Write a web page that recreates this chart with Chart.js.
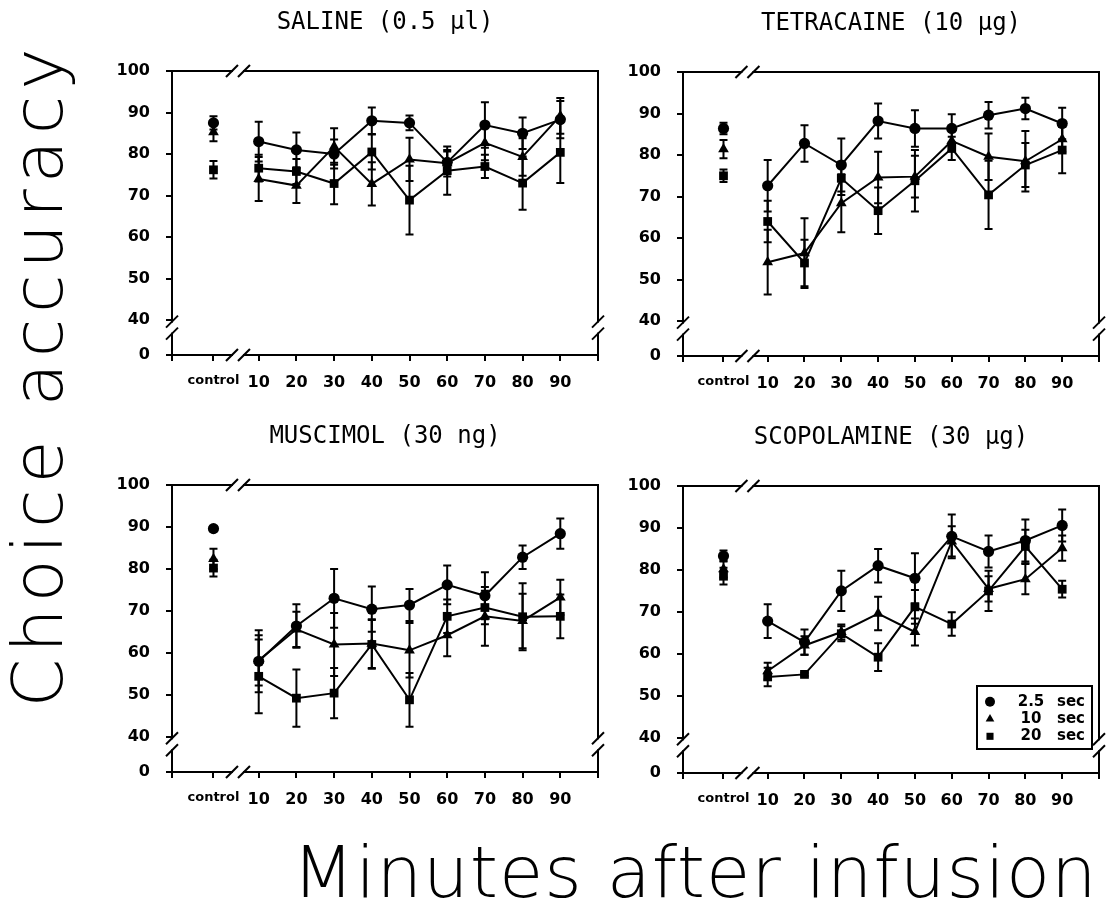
<!DOCTYPE html>
<html>
<head>
<meta charset="utf-8">
<title>Choice accuracy after infusion</title>
<script src="https://cdn.jsdelivr.net/npm/chart.js@4.4.1/dist/chart.umd.min.js"></script>
<style>
  html, body { margin: 0; padding: 0; background: #fff; overflow: hidden; }
  body { position: relative; width: 1114px; height: 916px; }
  canvas { position: absolute; }
  #saline { left: 100px; top: 0px; }
  #tetracaine { left: 611px; top: 1px; }
  #muscimol { left: 100px; top: 414px; }
  #scopolamine { left: 611px; top: 415px; }
  .big { position: absolute; font-family: "DejaVu Sans", sans-serif; font-weight: 200;
         color: #000; white-space: nowrap; line-height: 1; }
  #ylab { left: 38px; top: 375px; font-size: 70px; letter-spacing: 6px;
          transform: translate(-50%, -50%) rotate(-90deg); }
  #xlab { left: 695px; top: 872px; font-size: 72px; letter-spacing: 1px; transform: translate(-50%, -50%); }
</style>
</head>
<body>
<canvas id="saline" width="510" height="410"></canvas>
<canvas id="tetracaine" width="500" height="410"></canvas>
<canvas id="muscimol" width="510" height="413"></canvas>
<canvas id="scopolamine" width="500" height="413"></canvas>
<div class="big" id="ylab">Choice accuracy</div>
<div class="big" id="xlab">Minutes after infusion</div>

<script>
// minutes after infusion; every series below starts with the control value
const minutes = [10, 20, 30, 40, 50, 60, 70, 80, 90];
const accuracyTicks = [0, 40, 50, 60, 70, 80, 90, 100];
const delayLabels = ['2.5 sec', '10 sec', '20 sec'];

// SALINE (0.5 ul)
const saline25 = [87.5, 83, 81, 80, 88, 87.5, 78, 87, 85, 88.3];
const saline25Err = [1.6, 4.8, 4.2, 3.5, 3.2, 1.8, 2.6, 5.5, 3.8, 4.5];
const saline10 = [85.3, 74, 72.4, 81.8, 72.8, 78.7, 77.8, 82.7, 79.3, 89.2];
const saline10Err = [2.2, 5.3, 4.2, 4.4, 5.2, 5.2, 3.2, 4.2, 4.5, 4.3];
const saline20 = [76.2, 76.6, 75.8, 72.9, 80.5, 68.9, 76, 77, 73, 80.4];
const saline20Err = [2.1, 3.2, 3, 5, 4.2, 8.3, 5.8, 2.8, 6.4, 7.4];

// TETRACAINE (10 ug)
const tetra25 = [86.4, 72.6, 82.8, 77.6, 88.2, 86.4, 86.4, 89.6, 91.2, 87.6];
const tetra25Err = [1.4, 6.2, 4.4, 6.4, 4.2, 4.4, 3.4, 3.2, 2.6, 3.8];
const tetra10 = [81.4, 54.2, 56.4, 68.4, 74.6, 74.8, 83.4, 79.6, 78.5, 83.8];
const tetra10Err = [2.2, 7.8, 8.4, 7, 6.2, 5, 2.5, 5.6, 7.3, 3];
const tetra20 = [75, 64, 54, 74.4, 66.6, 73.8, 81.6, 70.4, 77.6, 81.2];
const tetra20Err = [1.5, 5, 5.6, 4, 5.6, 7.4, 2.8, 8.2, 5.3, 5.6];

// MUSCIMOL (30 ng)
const musc25 = [89.6, 58, 66.4, 73, 70.4, 71.4, 76.2, 73.6, 82.8, 88.4];
const musc25Err = [0.6, 7.4, 5.2, 7, 5.4, 3.8, 4.6, 5.6, 2.8, 3.6];
const musc10 = [82.4, 58.2, 65.6, 62, 62.2, 60.6, 64.2, 68.7, 67.6, 73.2];
const musc10Err = [2.4, 6, 4.2, 7.5, 5.8, 6.5, 5, 7, 6.5, 4.2];
const musc20 = [80.2, 54.4, 49.2, 50.4, 62, 48.8, 68.7, 70.8, 68.6, 68.7];
const musc20Err = [2, 8.8, 6.8, 6, 5.8, 6.4, 4, 4, 8, 5.2];

// SCOPOLAMINE (30 ug)
const scop25 = [83.3, 67.8, 62.8, 75, 81, 78, 88, 84.4, 87, 90.6];
const scop25Err = [1.3, 4, 3, 4.8, 4, 6, 5.2, 3.8, 5, 3.8];
const scop10 = [80.2, 55.9, 62, 65.2, 69.6, 65.2, 86.8, 75.5, 77.8, 85.2];
const scop10Err = [2, 2, 2.2, 1.8, 4, 3.2, 3.6, 3, 3.6, 3];
const scop20 = [78.5, 54.5, 55.1, 64.8, 59.2, 71.2, 67.1, 75, 85.6, 75.4];
const scop20Err = [2, 2.2, 0.4, 1.8, 3.3, 4, 2.8, 4.8, 4, 2];

// layout of the broken axes
const CONTROL_X = -2;          // control column sits left of the x break
const X_MIN = -13, X_MAX = 100;
const Y_ZERO = 31.6;           // "0" tick drawn just under the y break
const X_BREAK = 4.5, Y_BREAK = 38.2;
const FONT = "'DejaVu Sans', sans-serif";

const markerStyles = ['circle', 'triangle', 'rect'];
const markerRadius = [5.6, 6.2, 6.2];

function points(values) {
  return values.map((v, i) => ({ x: i === 0 ? CONTROL_X : minutes[i - 1], y: v }));
}

function slash(ctx, x, y) {
  ctx.beginPath();
  ctx.moveTo(x - 6, y + 6);
  ctx.lineTo(x + 6, y - 6);
  ctx.stroke();
}

// box around the plot with the // marks on the broken axes
const framePlugin = {
  id: 'frame',
  afterDraw(chart) {
    const { ctx, chartArea: a, scales } = chart;
    const bx = scales.x.getPixelForValue(X_BREAK);
    const by = scales.y.getPixelForValue(Y_BREAK);
    ctx.save();
    ctx.strokeStyle = '#000';
    ctx.lineWidth = 2;
    ctx.strokeRect(a.left, a.top, a.right - a.left, a.bottom - a.top);
    ctx.fillStyle = '#fff';
    [a.top, a.bottom].forEach(yy => {
      ctx.fillRect(bx - 5, yy - 2, 10, 4);
      slash(ctx, bx - 6, yy);
      slash(ctx, bx + 6, yy);
    });
    [a.left, a.right].forEach(xx => {
      ctx.fillRect(xx - 2, by - 5, 4, 10);
      slash(ctx, xx, by - 6);
      slash(ctx, xx, by + 6);
    });
    ctx.restore();
  }
};

const errorBarPlugin = {
  id: 'errorBars',
  beforeDatasetsDraw(chart) {
    const { ctx, scales: { y } } = chart;
    ctx.save();
    ctx.strokeStyle = '#000';
    ctx.lineWidth = 2;
    chart.data.datasets.forEach((ds, k) => {
      chart.getDatasetMeta(k).data.forEach((pt, i) => {
        const e = ds.errors[i];
        if (!e) return;
        const top = y.getPixelForValue(ds.data[i].y + e);
        const bot = y.getPixelForValue(ds.data[i].y - e);
        ctx.beginPath();
        ctx.moveTo(pt.x, top); ctx.lineTo(pt.x, bot);
        ctx.moveTo(pt.x - 4, top); ctx.lineTo(pt.x + 4, top);
        ctx.moveTo(pt.x - 4, bot); ctx.lineTo(pt.x + 4, bot);
        ctx.stroke();
      });
    });
    ctx.restore();
  }
};

const legendBoxPlugin = {
  id: 'legendBox',
  afterDraw(chart, args, opts) {
    if (!opts.show) return;
    const { ctx, chartArea: a } = chart;
    const left = a.left + opts.dx, top = a.top + opts.dy;
    ctx.save();
    ctx.lineWidth = 2;
    ctx.strokeStyle = '#000';
    ctx.fillStyle = '#fff';
    ctx.fillRect(left, top, opts.w, opts.h);
    ctx.strokeRect(left, top, opts.w, opts.h);
    ctx.fillStyle = '#000';
    ctx.font = "bold 15px " + FONT;
    ctx.textBaseline = 'middle';
    ctx.textAlign = 'center';
    chart.data.datasets.forEach((ds, k) => {
      const yy = top + opts.rowTop + k * opts.rowGap;
      Chart.helpers.drawPoint(ctx, { pointStyle: ds.pointStyle, radius: 5, borderWidth: 0, rotation: 0 }, left + 13, yy);
      const [num, unit] = ds.label.split(' ');
      ctx.fillText(num, left + 54, yy);
      ctx.fillText(unit, left + 94, yy);
    });
    ctx.restore();
  }
};

function makePanel(id, title, series, errors, withLegend) {
  const datasets = series.map((vals, k) => ({
    label: delayLabels[k],
    data: points(vals),
    errors: errors[k],
    borderColor: '#000',
    backgroundColor: '#000',
    borderWidth: 2,
    pointStyle: markerStyles[k],
    pointRadius: markerRadius[k],
    pointBorderWidth: 0,
    tension: 0,
    segment: { borderColor: c => c.p0DataIndex === 0 ? 'rgba(0,0,0,0)' : '#000' }
  }));

  const tickGrid = { drawOnChartArea: false, drawTicks: true, tickLength: 6, color: '#000', lineWidth: 2 };

  return new Chart(document.getElementById(id), {
    type: 'line',
    data: { datasets },
    options: {
      responsive: false,
      animation: false,
      devicePixelRatio: 1,
      layout: { padding: { left: 10, right: id === 'saline' || id === 'muscimol' ? 11 : 3, top: 0, bottom: 10 } },
      plugins: {
        legend: { display: false },
        tooltip: { enabled: false },
        title: {
          display: true, text: title, fullSize: false, color: '#000',
          font: { family: "'DejaVu Sans Mono', monospace", size: 24, weight: 'normal' },
          padding: { top: 8, bottom: 34.2 }
        },
        legendBox: withLegend
          ? { show: true, dx: 294, dy: 200, w: 115, h: 63, rowTop: 15.7, rowGap: 17.3 }
          : { show: false }
      },
      scales: {
        x: {
          type: 'linear', min: X_MIN, max: X_MAX,
          afterBuildTicks: s => { s.ticks = [X_MIN, CONTROL_X, ...minutes, X_MAX].map(v => ({ value: v })); },
          afterFit: s => { s.height = 45; },
          grid: tickGrid,
          border: { display: false },
          ticks: {
            autoSkip: false, maxRotation: 0, padding: 12, color: '#000',
            font: c => (c.tick && c.tick.value === CONTROL_X)
              ? { family: FONT, size: 13, weight: 'bold' }
              : { family: FONT, size: 16, weight: 'bold' },
            callback: v => v === CONTROL_X ? 'control' : (minutes.includes(v) ? String(v) : '')
          }
        },
        y: {
          type: 'linear', min: Y_ZERO, max: 100,
          afterBuildTicks: s => { s.ticks = accuracyTicks.map(t => ({ value: t === 0 ? Y_ZERO : t })); },
          afterFit: s => { s.width = 62; },
          grid: tickGrid,
          border: { display: false },
          ticks: {
            padding: 16, color: '#000',
            font: { family: FONT, size: 16, weight: 'bold' },
            callback: v => v === Y_ZERO ? '0' : String(v)
          }
        }
      }
    },
    plugins: [errorBarPlugin, framePlugin, legendBoxPlugin]
  });
}

makePanel('saline', 'SALINE (0.5 μl)',
  [saline25, saline10, saline20], [saline25Err, saline10Err, saline20Err], false);
makePanel('tetracaine', 'TETRACAINE (10 μg)',
  [tetra25, tetra10, tetra20], [tetra25Err, tetra10Err, tetra20Err], false);
makePanel('muscimol', 'MUSCIMOL (30 ng)',
  [musc25, musc10, musc20], [musc25Err, musc10Err, musc20Err], false);
makePanel('scopolamine', 'SCOPOLAMINE (30 μg)',
  [scop25, scop10, scop20], [scop25Err, scop10Err, scop20Err], true);
</script>
</body>
</html>
